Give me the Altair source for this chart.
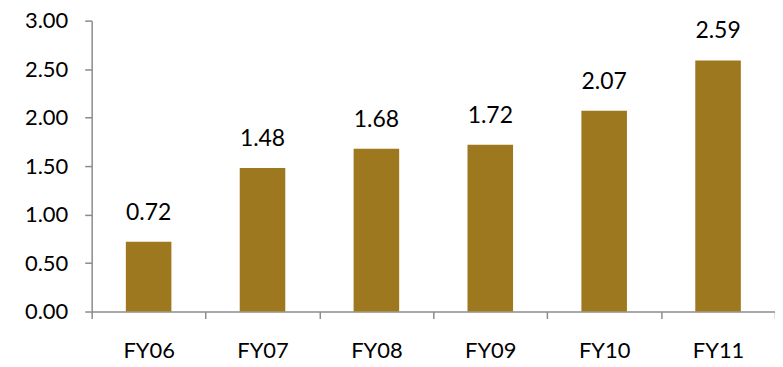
import altair as alt
import pandas as pd

categories = ["FY06", "FY07", "FY08", "FY09", "FY10", "FY11"]
values = [0.72, 1.48, 1.68, 1.72, 2.07, 2.59]
y_ticks = [0, 0.5, 1.0, 1.5, 2.0, 2.5, 3.0]

df = pd.DataFrame({"cat": categories, "val": values})

FONT = "Lato"
BAR = "#9E781E"
AX = "#8C8C8C"

x = alt.X(
    "cat:N",
    sort=categories,
    title=None,
    scale=alt.Scale(paddingInner=0, paddingOuter=0),
    axis=alt.Axis(
        tickBand="extent",
        labelAngle=0,
        domainColor=AX,
        domainWidth=1.5,
        tickColor=AX,
        tickWidth=1.5,
        tickSize=7,
        labelPadding=22,
        labelFont=FONT,
        labelFontSize=22,
        labelColor="#000000",
        grid=False,
    ),
)
y = alt.Y(
    "val:Q",
    title=None,
    scale=alt.Scale(domain=[0, 3], nice=False),
    axis=alt.Axis(
        values=y_ticks,
        format=".2f",
        domainColor=AX,
        domainWidth=1.5,
        tickColor=AX,
        tickWidth=1.5,
        tickSize=7,
        labelPadding=17,
        labelFont=FONT,
        labelFontSize=22,
        labelColor="#000000",
        grid=False,
    ),
)

base = alt.Chart(df)
bars = base.mark_bar(color=BAR, width=alt.RelativeBandSize(0.4)).encode(x=x, y=y)
labels = base.mark_text(
    baseline="alphabetic", dy=-22, font=FONT, fontSize=23, color="#000000"
).encode(x=x, y=y, text=alt.Text("val:Q", format=".2f"))

chart = (
    alt.layer(bars, labels)
    .properties(
        width=686,
        height=292,
        autosize=alt.AutoSizeParams(type="none"),
        padding={"left": 84, "top": 12, "right": 0, "bottom": 55},
        background="#ffffff",
    )
    .configure_view(stroke=None)
)

chart.save("out.html", embed_options={"renderer": "svg", "actions": False})
